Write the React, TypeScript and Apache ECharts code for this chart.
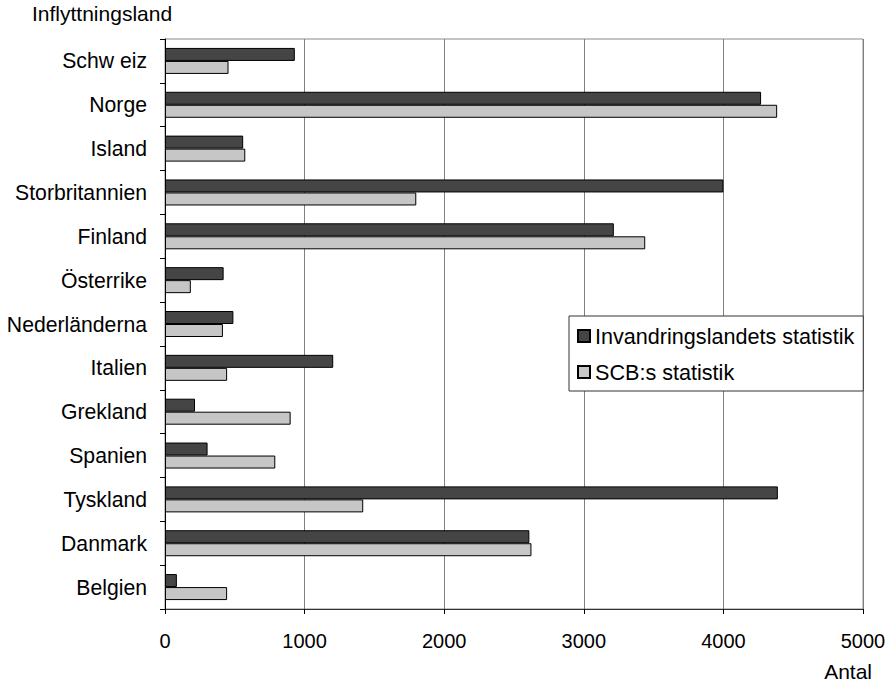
import React, { useEffect, useRef } from "react";
import * as echarts from "echarts";

const categories = [
  "Schw eiz",
  "Norge",
  "Island",
  "Storbritannien",
  "Finland",
  "Österrike",
  "Nederländerna",
  "Italien",
  "Grekland",
  "Spanien",
  "Tyskland",
  "Danmark",
  "Belgien",
];
const invandringslandet = [930, 4270, 560, 4000, 3215, 420, 490, 1205, 215, 305, 4390, 2610, 85];
const scb = [455, 4385, 575, 1800, 3440, 185, 415, 445, 900, 790, 1420, 2625, 445];
const seriesNames = ["Invandringslandets statistik", "SCB:s statistik"];
const xTitle = "Antal";
const yTitle = "Inflyttningsland";

const FONT = "'Liberation Sans', Arial, Helvetica, sans-serif";

export default function App() {
  const ref = useRef<HTMLDivElement>(null);
  useEffect(() => {
    if (!ref.current) return;
    const chart = echarts.init(ref.current, undefined, { renderer: "svg" });
    chart.setOption({
      animation: false,
      backgroundColor: "#ffffff",
      textStyle: { fontFamily: FONT },
      grid: {
        left: 165,
        right: 27,
        top: 39,
        bottom: 75,
        show: true,
        borderColor: "#8a8a8a",
        borderWidth: 1,
        backgroundColor: "transparent",
      },
      legend: {
        orient: "vertical",
        left: 569,
        top: 316,
        padding: [9, 9, 8, 8],
        itemWidth: 12,
        itemHeight: 12,
        itemGap: 14,
        icon: "rect",
        backgroundColor: "#ffffff",
        borderColor: "#333333",
        borderWidth: 1,
        borderRadius: 0,
        textStyle: { fontFamily: FONT, fontSize: 21.6, color: "#000", lineHeight: 20, padding: [0, 0, 0, 0] },
        data: seriesNames,
      },
      xAxis: {
        type: "value",
        min: 0,
        max: 5000,
        interval: 1000,
        axisLine: { show: true, lineStyle: { color: "#333333", width: 1 } },
        axisTick: { show: true, length: 5, inside: false, lineStyle: { color: "#000" } },
        axisLabel: {
          fontFamily: FONT,
          fontSize: 20,
          color: "#000",
          margin: 22,
          formatter: (v: number) => String(v),
        },
        splitLine: { show: true, lineStyle: { color: "#808080", width: 1 } },
      },
      yAxis: {
        type: "category",
        inverse: true,
        data: categories,
        axisLine: { show: true, lineStyle: { color: "#000", width: 1 } },
        axisTick: { show: true, length: 5, lineStyle: { color: "#000" } },
        axisLabel: { fontFamily: FONT, fontSize: 21.2, color: "#000", margin: 18 },
        splitLine: { show: false },
      },
      graphic: [
        {
          type: "text",
          left: 32,
          top: 3,
          style: { text: yTitle, fontFamily: FONT, fontSize: 21, fill: "#000" },
        },
        {
          type: "text",
          right: 18,
          top: 661,
          style: { text: xTitle, fontFamily: FONT, fontSize: 21, fill: "#000" },
        },
      ],
      series: [
        {
          name: seriesNames[0],
          type: "bar",
          data: invandringslandet,
          barWidth: 13,
          barGap: "0%",
          itemStyle: { color: "#454545", borderColor: "#000", borderWidth: 1 },
        },
        {
          name: seriesNames[1],
          type: "bar",
          data: scb,
          barWidth: 13,
          barGap: "0%",
          itemStyle: { color: "#c6c6c6", borderColor: "#000", borderWidth: 1 },
        },
      ],
    });
    return () => chart.dispose();
  }, []);
  return (
    <div
      ref={ref}
      style={{ position: "fixed", left: 0, top: 0, width: 890, height: 684, background: "#fff" }}
    />
  );
}
